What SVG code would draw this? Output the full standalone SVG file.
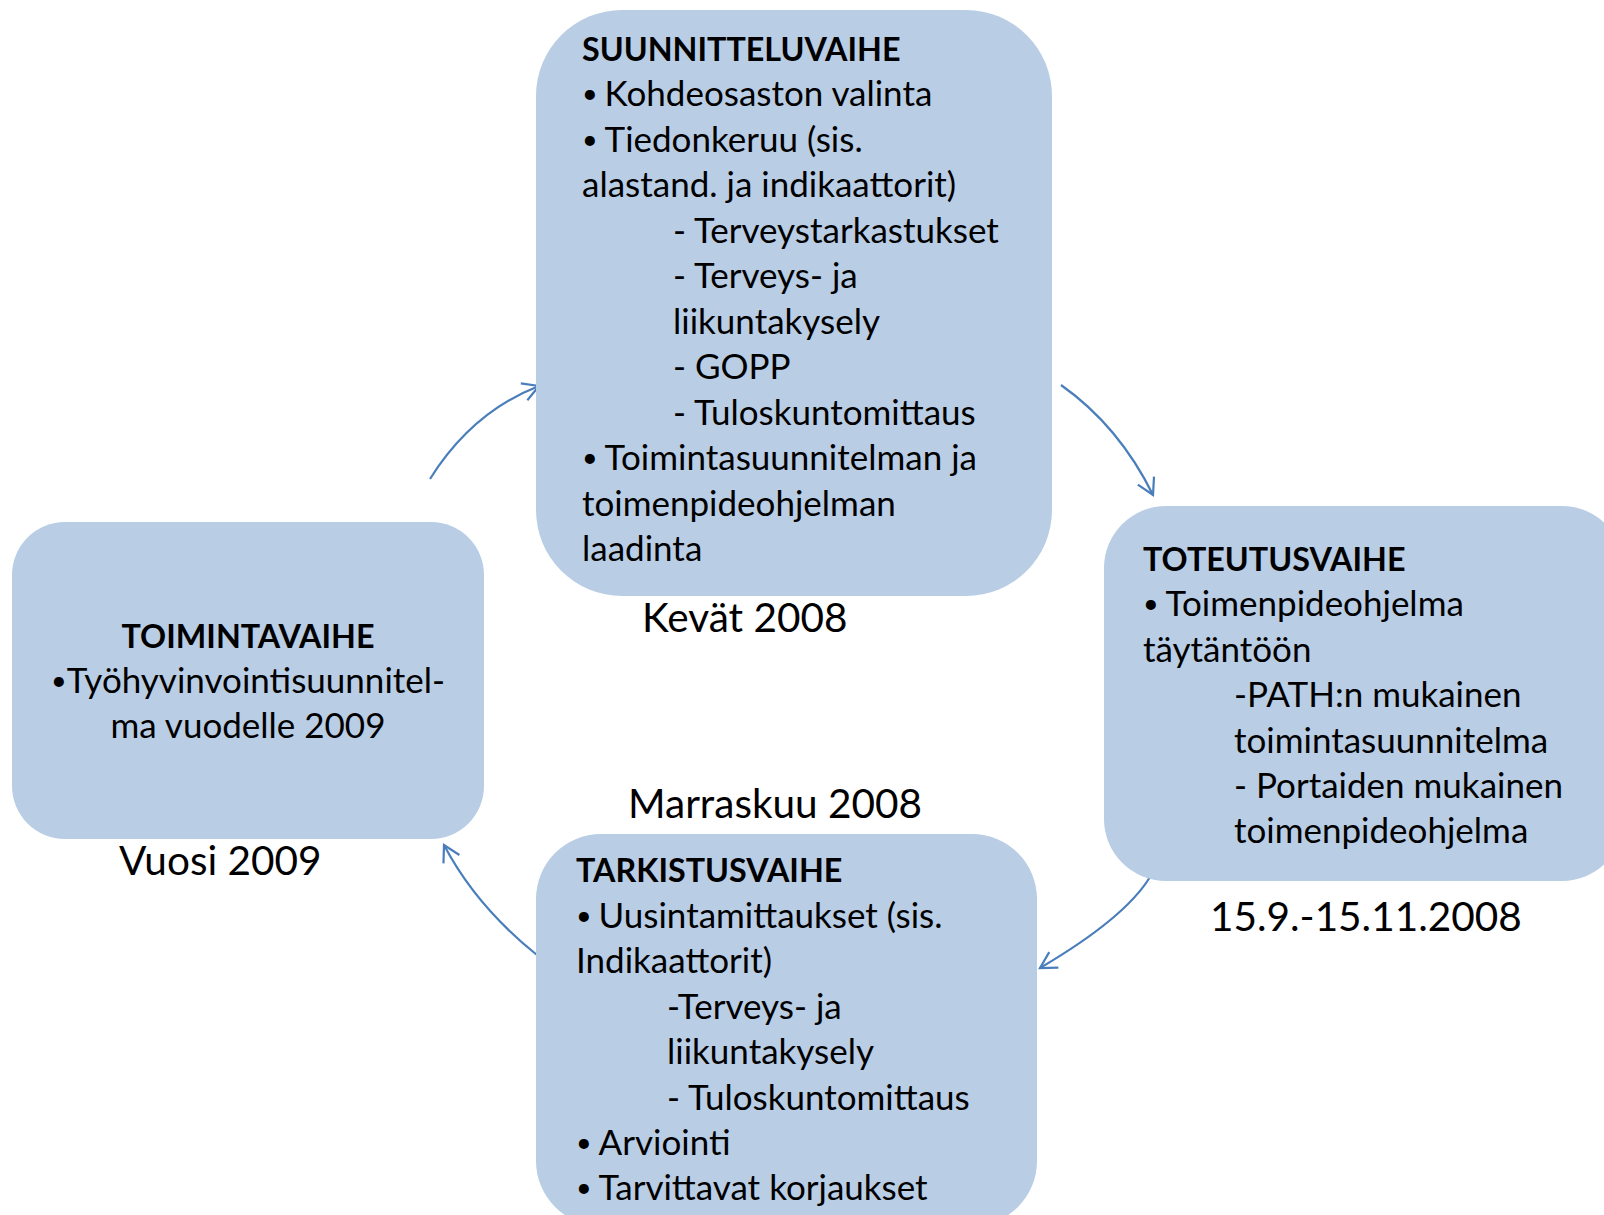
<svg xmlns="http://www.w3.org/2000/svg" width="1604" height="1215" viewBox="0 0 1604 1215">
<defs>
<style>
.box{fill:#B9CDE5;}
.t{font-family:Lato,"Liberation Sans",sans-serif;font-size:35px;fill:#000;}
.b{font-weight:bold;font-size:32.3px;}
.big{font-family:Lato,"Liberation Sans",sans-serif;font-size:40.5px;fill:#000;}
.bu{font-size:27px;}
.c{stroke:#4A7EBB;stroke-width:2.2;fill:none;}
</style>
<marker id="ah" markerWidth="24" markerHeight="24" refX="20" refY="12" orient="auto" markerUnits="userSpaceOnUse">
<path d="M4,3 L20,12 L4,21" fill="none" stroke="#4A7EBB" stroke-width="2.2"/>
</marker>
</defs>
<rect width="1604" height="1215" fill="#fff"/>
<g id="connectors">
<path class="c" d="M430,479 Q472,412 539,386" marker-end="url(#ah)"/>
<path class="c" d="M1061,385 Q1119,426 1153,495" marker-end="url(#ah)"/>
<path class="c" d="M1150,877 Q1125,918 1040,968" marker-end="url(#ah)"/>
<path class="c" d="M537,955 Q476,906 444,845" marker-end="url(#ah)"/>
</g>
<g id="suunnitteluvaihe">
<rect class="box" x="536" y="10" width="516" height="586" rx="86" ry="86"/>
<text class="t b" x="582" y="61">SUUNNITTELUVAIHE</text>
<text class="t" x="582" y="106"><tspan class="bu" dy="-3">• </tspan><tspan dy="3">Kohdeosaston valinta</tspan></text>
<text class="t" x="582" y="152"><tspan class="bu" dy="-3">• </tspan><tspan dy="3">Tiedonkeruu (sis.</tspan></text>
<text class="t" x="582" y="197">alastand. ja indikaattorit)</text>
<text class="t" x="673" y="243">- Terveystarkastukset</text>
<text class="t" x="673" y="288">- Terveys- ja</text>
<text class="t" x="673" y="334">liikuntakysely</text>
<text class="t" x="673" y="379">- GOPP</text>
<text class="t" x="673" y="425">- Tuloskuntomittaus</text>
<text class="t" x="582" y="470"><tspan class="bu" dy="-3">• </tspan><tspan dy="3">Toimintasuunnitelman ja</tspan></text>
<text class="t" x="582" y="516">toimenpideohjelman</text>
<text class="t" x="582" y="561">laadinta</text>
<text class="big" x="642" y="632">Kevät 2008</text>
</g>
<g id="toteutusvaihe">
<rect class="box" x="1104" y="506" width="520" height="375" rx="62" ry="62"/>
<text class="t b" x="1143" y="571">TOTEUTUSVAIHE</text>
<text class="t" x="1143" y="616"><tspan class="bu" dy="-3">• </tspan><tspan dy="3">Toimenpideohjelma</tspan></text>
<text class="t" x="1143" y="662">täytäntöön</text>
<text class="t" x="1234" y="707">-PATH:n mukainen</text>
<text class="t" x="1234" y="753">toimintasuunnitelma</text>
<text class="t" x="1234" y="798">- Portaiden mukainen</text>
<text class="t" x="1234" y="843">toimenpideohjelma</text>
<text class="big" x="1210" y="931">15.9.-15.11.2008</text>
</g>
<g id="tarkistusvaihe">
<rect class="box" x="536" y="834" width="501" height="392" rx="65" ry="65"/>
<text class="t b" x="576" y="882">TARKISTUSVAIHE</text>
<text class="t" x="576" y="928"><tspan class="bu" dy="-3">• </tspan><tspan dy="3">Uusintamittaukset (sis.</tspan></text>
<text class="t" x="576" y="973">Indikaattorit)</text>
<text class="t" x="667" y="1019">-Terveys- ja</text>
<text class="t" x="667" y="1064">liikuntakysely</text>
<text class="t" x="667" y="1110">- Tuloskuntomittaus</text>
<text class="t" x="576" y="1155"><tspan class="bu" dy="-3">• </tspan><tspan dy="3">Arviointi</tspan></text>
<text class="t" x="576" y="1200"><tspan class="bu" dy="-3">• </tspan><tspan dy="3">Tarvittavat korjaukset</tspan></text>
<text class="big" x="628" y="818">Marraskuu 2008</text>
</g>
<g id="toimintavaihe">
<rect class="box" x="12" y="522" width="472" height="317" rx="53" ry="53"/>
<text class="t b" x="248" y="648" text-anchor="middle">TOIMINTAVAIHE</text>
<text class="t" x="248" y="693" text-anchor="middle"><tspan class="bu" dy="-3">•</tspan><tspan dy="3">Työhyvinvointisuunnitel-</tspan></text>
<text class="t" x="248" y="738" text-anchor="middle">ma vuodelle 2009</text>
<text class="big" x="119" y="875">Vuosi 2009</text>
</g>
</svg>
